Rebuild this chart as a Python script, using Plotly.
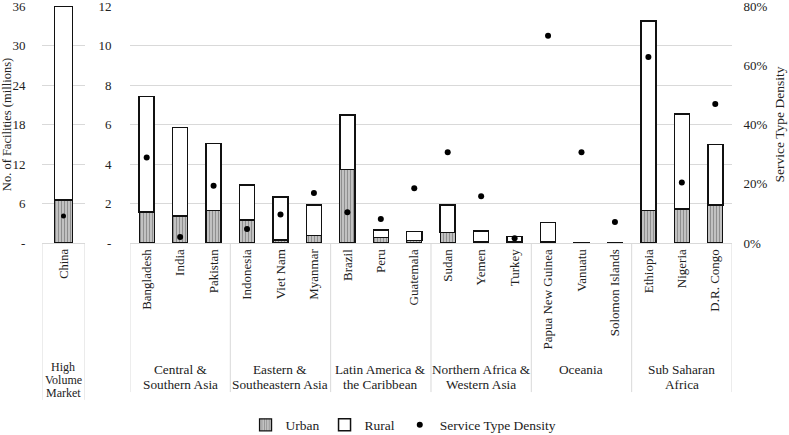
import plotly.graph_objects as go

# ---------------- data ----------------
china_cat = ["China"]
china_urban = [6.53]
china_rural = [29.40]
china_density = [0.091]

categories = ["Bangladesh", "India", "Pakistan", "Indonesia", "Viet Nam", "Myanmar",
              "Brazil", "Peru", "Guatemala", "Sudan", "Yemen", "Turkey",
              "Papua New Guinea", "Vanuatu", "Solomon Islands",
              "Ethiopia", "Nigeria", "D.R. Congo"]
urban = [1.58, 1.37, 1.64, 1.16, 0.15, 0.39,
         3.73, 0.29, 0.12, 0.52, 0.05, 0.05,
         0.04, 0.01, 0.02, 1.64, 1.71, 1.92]
rural = [5.83, 4.47, 3.41, 1.78, 2.19, 1.53,
         2.75, 0.37, 0.45, 1.40, 0.56, 0.27,
         0.99, 0.01, 0.01, 9.60, 4.81, 3.08]
density = [0.289, 0.020, 0.193, 0.047, 0.096, 0.169,
           0.104, 0.081, 0.185, 0.306, 0.158, 0.016,
           0.700, 0.306, 0.071, 0.628, 0.204, 0.469]

groups = ["Central &<br>Southern Asia", "Eastern &<br>Southeastern Asia",
          "Latin America &<br>the Caribbean", "Northern Africa &<br>Western Asia",
          "Oceania", "Sub Saharan<br>Africa"]
china_group = "High<br>Volume<br>Market"

left_tickvals = [0, 6, 12, 18, 24, 30, 36]
left_ticktext = ["-", "6", "12", "18", "24", "30", "36"]
mid_tickvals = [0, 2, 4, 6, 8, 10, 12]
mid_ticktext = ["-", "2", "4", "6", "8", "10", "12"]
pct_tickvals = [0, 0.2, 0.4, 0.6, 0.8]

FONT = "Liberation Serif, Times New Roman, DejaVu Serif, serif"
GRID = "#d9d9d9"
CLEAR = "rgba(0,0,0,0)"
urban_pattern = dict(shape="|", fgcolor="#5a5a5a", bgcolor="#c2c2c2", size=3, solidity=0.35)

fig = go.Figure()

# China panel
fig.add_trace(go.Bar(x=china_cat, y=china_urban, name="Urban", xaxis="x", yaxis="y",
                     width=0.42, showlegend=False,
                     marker=dict(color="#b0b0b0", pattern=urban_pattern,
                                 line=dict(color="#111", width=1.3))))
fig.add_trace(go.Bar(x=china_cat, y=china_rural, name="Rural", xaxis="x", yaxis="y",
                     width=0.42, showlegend=False,
                     marker=dict(color="white", line=dict(color="#111", width=1.5))))
fig.add_trace(go.Scatter(x=china_cat, y=china_density, mode="markers", xaxis="x", yaxis="y4",
                         showlegend=False, marker=dict(color="black", size=5)))

# Main panel
fig.add_trace(go.Bar(x=categories, y=urban, name="Urban", xaxis="x2", yaxis="y2",
                     width=0.45, legendrank=1,
                     marker=dict(color="#b0b0b0", pattern=urban_pattern,
                                 line=dict(color="#111", width=1.3))))
fig.add_trace(go.Bar(x=categories, y=rural, name="Rural", xaxis="x2", yaxis="y2",
                     width=0.45, legendrank=2,
                     marker=dict(color="white", line=dict(color="#111", width=1.5))))
fig.add_trace(go.Scatter(x=categories, y=density, mode="markers", name="Service Type Density",
                         xaxis="x2", yaxis="y3", legendrank=3,
                         marker=dict(color="black", size=6)))

# shapes: category dividers
shapes = []
for xv in [-0.5, 0.5]:
    shapes.append(dict(type="line", xref="x", yref="paper", x0=xv, x1=xv, y0=0, y1=-0.662,
                       line=dict(color=GRID, width=1)))
for k in range(7):
    xv = -0.5 + 3 * k
    shapes.append(dict(type="line", xref="x2", yref="paper", x0=xv, x1=xv, y0=0, y1=-0.629,
                       line=dict(color=GRID, width=1)))

annotations = []
china_lines = china_group.split("<br>")
china_ys = [-0.523, -0.577, -0.631]
for line, yv in zip(china_lines, china_ys):
    annotations.append(dict(xref="x", yref="paper", x=0, y=yv, yanchor="middle", showarrow=False,
                            text=line, font=dict(family=FONT, size=12, color="#222")))
group_ys = [-0.532, -0.595]
for i, g in enumerate(groups):
    for line, yv in zip(g.split("<br>"), group_ys):
        annotations.append(dict(xref="x2", yref="paper", x=1 + 3 * i, y=yv, yanchor="middle",
                                showarrow=False, text=line,
                                font=dict(family=FONT, size=13.3, color="#222")))

fig.update_layout(
    width=789, height=435,
    margin=dict(l=42, r=57, t=6, b=192, autoexpand=False),
    paper_bgcolor="white", plot_bgcolor="white",
    barmode="stack",
    font=dict(family=FONT, size=13, color="#333"),
    showlegend=True,
    legend=dict(orientation="h", x=0.295, xanchor="left", y=-0.768, yanchor="middle",
                font=dict(family=FONT, size=13.5, color="#222"), itemwidth=30,
                traceorder="normal"),
    xaxis=dict(domain=[0, 0.0623], range=[-0.5, 0.5], tickangle=-90, showgrid=False,
               showline=True, linecolor=GRID, ticks="", automargin=False,
               tickfont=dict(family=FONT, size=12.5, color="#222")),
    yaxis=dict(range=[0, 36], tickvals=left_tickvals, ticktext=left_ticktext,
               showgrid=True, gridcolor=GRID, zeroline=False, automargin=False,
               ticks="outside", ticklen=13, tickcolor=CLEAR,
               ticklabeloverflow="allow",
               tickfont=dict(family=FONT, size=13, color="#222"),
               title=dict(text="No. of Facilities (millions)",
                          font=dict(family=FONT, size=12.5, color="#222"), standoff=0)),
    yaxis4=dict(range=[0, 0.8], overlaying="y", anchor="x", visible=False),
    xaxis2=dict(domain=[0.1275, 1], range=[-0.5, 17.5], tickangle=-90, showgrid=False,
                showline=True, linecolor=GRID, ticks="", automargin=False,
                tickfont=dict(family=FONT, size=13, color="#222")),
    yaxis2=dict(anchor="x2", range=[0, 12], tickvals=mid_tickvals, ticktext=mid_ticktext,
                showgrid=True, gridcolor=GRID, zeroline=False, automargin=False,
                ticks="outside", ticklen=15, tickcolor=CLEAR,
                ticklabeloverflow="allow",
                tickfont=dict(family=FONT, size=13, color="#222")),
    yaxis3=dict(anchor="x2", overlaying="y2", side="right", range=[0, 0.8],
                tickvals=pct_tickvals, tickformat=".0%", showgrid=False, zeroline=False,
                ticks="outside", ticklen=8, tickcolor=CLEAR,
                ticklabeloverflow="allow", automargin=False,
                tickfont=dict(family=FONT, size=13, color="#222"),
                title=dict(text="Service Type Density",
                           font=dict(family=FONT, size=13.5, color="#222"), standoff=7)),
    shapes=shapes,
    annotations=annotations,
)

fig.write_html("out.html", config={"displayModeBar": False},
               post_script="document.body.style.margin='0';")
